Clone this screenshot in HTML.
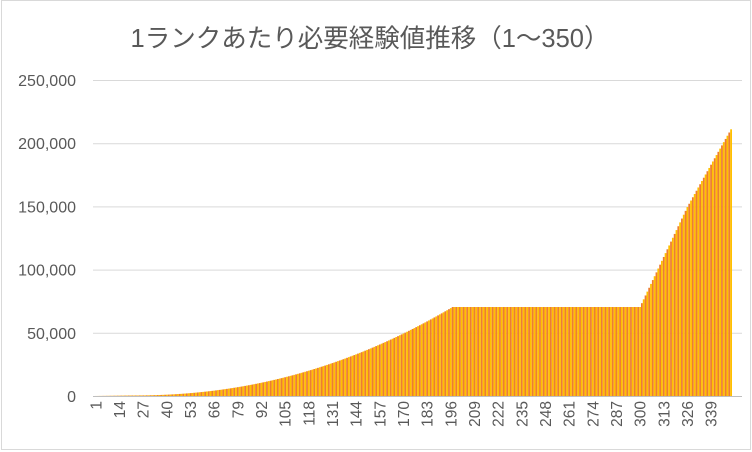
<!DOCTYPE html>
<html><head><meta charset="utf-8">
<style>
html,body{margin:0;padding:0;background:#fff;}
#c{position:relative;width:752px;height:452px;overflow:hidden;}
svg text{font-family:"Liberation Sans","Noto Sans CJK JP",sans-serif;fill:#595959;}
</style></head>
<body><div id="c">
<svg id="s" width="752" height="452" xmlns="http://www.w3.org/2000/svg">
<rect x="1.5" y="0.5" width="749" height="449" fill="#fff" stroke="#d9d9d9"/>
<text x="370" y="47" font-size="25.5" text-anchor="middle">1ランクあたり必要経験値推移（1～350）</text>
<g id="grid" stroke="#d9d9d9" stroke-width="1"></g>
<g id="bars"></g>
<g id="lab"></g>
</svg>
</div>
<script>
var NS="http://www.w3.org/2000/svg";
function el(t,a,p){var e=document.createElementNS(NS,t);for(var k in a)e.setAttribute(k,a[k]);p.appendChild(e);return e;}
var grid=document.getElementById('grid'),bars=document.getElementById('bars'),lab=document.getElementById('lab');
var y0=396,per=63.2/50000,x0=95,w=1.82;
var ylabs=["0","50,000","100,000","150,000","200,000","250,000"];
for(var i=0;i<6;i++){var y=y0-i*63.2;
 el('line',{x1:93,x2:742,y1:y+0.5,y2:y+0.5,stroke:i==0?'#bfbfbf':'#d9d9d9'},grid);
 var t=el('text',{x:76,y:y+6,'text-anchor':'end','font-size':16},lab);t.textContent=ylabs[i];}
function val(n){
 if(n<=20)return 20*n;
 if(n<=197)return 400+70000*Math.pow((n-20)/177,2.15);
 if(n<=300)return 70400;
 var pts=[[300,70400],[313,110000],[326,149500],[339,183000],[350,211000]];
 for(var k=0;k<pts.length-1;k++){if(n<=pts[k+1][0]){var a=pts[k],b=pts[k+1];return a[1]+(b[1]-a[1])*(n-a[0])/(b[0]-a[0]);}}
 return 211000;}
for(var n=1;n<=350;n++){var v=val(n),h=v*per,x=x0+(n-1)*w;
 el('rect',{x:x.toFixed(2),y:(y0-h).toFixed(2),width:w.toFixed(2),height:h.toFixed(2),fill:n%2?'#ED7D31':'#FFC000'},bars);}
for(var n=1;n<=350;n+=13){var x=x0+(n-0.5)*w+5.5;
 var t=el('text',{x:0,y:0,'text-anchor':'end','font-size':15.5,transform:'translate('+x.toFixed(1)+',401) rotate(-90)'},lab);t.textContent=n;}
</script>
</body></html>
